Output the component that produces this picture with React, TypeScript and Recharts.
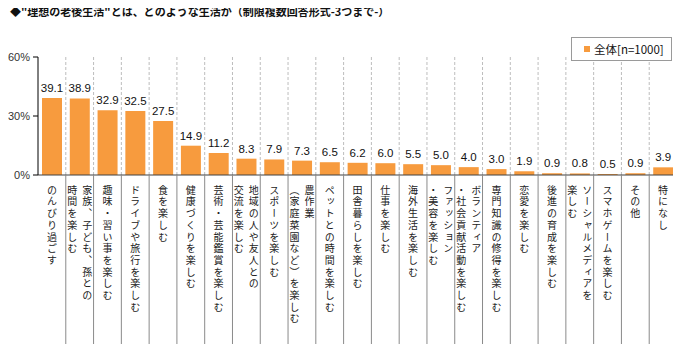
import React from 'react';
import { BarChart, Bar, XAxis, YAxis, CartesianGrid, Legend, LabelList } from 'recharts';

// category labels: "|" splits the vertical columns (first column is drawn on the right)
const categories = [
  'のんびり過ごす',
  '家族、子ども、孫との|時間を楽しむ',
  '趣味・習い事を楽しむ',
  'ドライブや旅行を楽しむ',
  '食を楽しむ',
  '健康づくりを楽しむ',
  '芸術・芸能鑑賞を楽しむ',
  '地域の人や友人との|交流を楽しむ',
  'スポーツを楽しむ',
  '農作業|（家庭菜園など）を楽しむ',
  'ペットとの時間を楽しむ',
  '田舎暮らしを楽しむ',
  '仕事を楽しむ',
  '海外生活を楽しむ',
  'ファッション|・美容を楽しむ',
  'ボランティア|・社会貢献活動を楽しむ',
  '専門知識の修得を楽しむ',
  '恋愛を楽しむ',
  '後進の育成を楽しむ',
  'ソーシャルメディアを|楽しむ',
  'スマホゲームを楽しむ',
  'その他',
  '特になし',
];
const totalValues = [39.1, 38.9, 32.9, 32.5, 27.5, 14.9, 11.2, 8.3, 7.9, 7.3, 6.5, 6.2, 6.0, 5.5, 5.0, 4.0, 3.0, 1.9, 0.9, 0.8, 0.5, 0.9, 3.9];
const yTicks = [0, 30, 60];
const seriesName = '全体[n=1000]';
const title = '◆"理想の老後生活"とは、どのような生活か（制限複数回答形式-3つまで-）';

const data = categories.map((c, i) => ({ name: c, total: totalValues[i] }));

const W = 681;
const H = 352;
const PLOT_LEFT = 38;
const PLOT_RIGHT = 677;
const PLOT_BOTTOM = 175;
const CAT_W = (PLOT_RIGHT - PLOT_LEFT) / categories.length;
const ORANGE = '#F79B3E';
const JP = '"Noto Sans CJK JP", "Noto Sans", sans-serif';

function CatTick(props: any) {
  const { x, payload, index } = props;
  const cols: string[] = String(payload.value).split('|');
  const n = cols.length;
  return (
    <g>
      {index > 0 && (
        <line x1={x - CAT_W / 2} x2={x - CAT_W / 2} y1={PLOT_BOTTOM} y2={349} stroke="#8a8a8a" strokeWidth={1} />
      )}
      {cols.map((col, j) => {
        const cx = x + ((n - 1) / 2) * 15 - j * 15;
        return (
          <text
            key={j}
            x={cx}
            y={185}
            fontSize={10}
            fontFamily={JP}
            fill="#222"
            style={{ writingMode: 'vertical-rl', letterSpacing: 1.7 }}
          >
            {col}
          </text>
        );
      })}
    </g>
  );
}

function LegendBox() {
  return (
    <div
      style={{
        border: '1px solid #9a9a9a',
        background: '#fff',
        width: 101,
        height: 24,
        boxSizing: 'border-box',
        display: 'flex',
        alignItems: 'center',
        paddingLeft: 12,
        fontFamily: JP,
        fontSize: 11.5,
        color: '#111',
      }}
    >
      <span style={{ display: 'inline-block', width: 6, height: 6, background: ORANGE, marginRight: 4 }} />
      {seriesName}
    </div>
  );
}

export default function App() {
  const gridXs = Array.from({ length: categories.length }, (_, i) => PLOT_LEFT + (i + 1) * CAT_W);
  return (
    <div style={{ position: 'relative', width: W, height: H, margin: -8, background: '#fff' }}>
      <div
        style={{
          position: 'absolute',
          left: 10,
          top: 3,
          fontFamily: JP,
          fontSize: 11,
          fontWeight: 700,
          color: '#111',
          whiteSpace: 'nowrap',
          zIndex: 2,
        }}
      >
        {title}
      </div>
      <BarChart
        width={W}
        height={H}
        data={data}
        margin={{ top: 33, right: W - PLOT_RIGHT, bottom: 0, left: 0 }}
        barSize={20}
      >
        <CartesianGrid
          horizontal={false}
          stroke="#bdbdbd"
          strokeDasharray="3 2"
          verticalCoordinatesGenerator={() => gridXs}
        />
        <XAxis
          dataKey="name"
          height={H - PLOT_BOTTOM}
          tickLine={false}
          interval={0}
          axisLine={{ stroke: '#404040' }}
          tick={<CatTick />}
        />
        <YAxis
          width={PLOT_LEFT}
          domain={[0, 60]}
          ticks={yTicks}
          tickFormatter={(v: number) => `${v}%`}
          axisLine={{ stroke: '#000' }}
          tickLine={{ stroke: '#000' }}
          tickSize={5}
          tickMargin={3}
          tick={{ fontSize: 11, fill: '#333', fontFamily: '"Liberation Sans", Arial, sans-serif' }}
        />
        <Legend
          verticalAlign="top"
          align="right"
          content={<LegendBox />}
          wrapperStyle={{ position: 'absolute', top: 37, left: 571, width: 101 }}
        />
        <Bar dataKey="total" name={seriesName} fill={ORANGE} isAnimationActive={false}>
          <LabelList
            dataKey="total"
            position="top"
            offset={6}
            formatter={(v: any) => Number(v).toFixed(1)}
            style={{ fontSize: 11.5, fill: '#111', fontFamily: '"Liberation Sans", Arial, sans-serif' }}
          />
        </Bar>
      </BarChart>
    </div>
  );
}
